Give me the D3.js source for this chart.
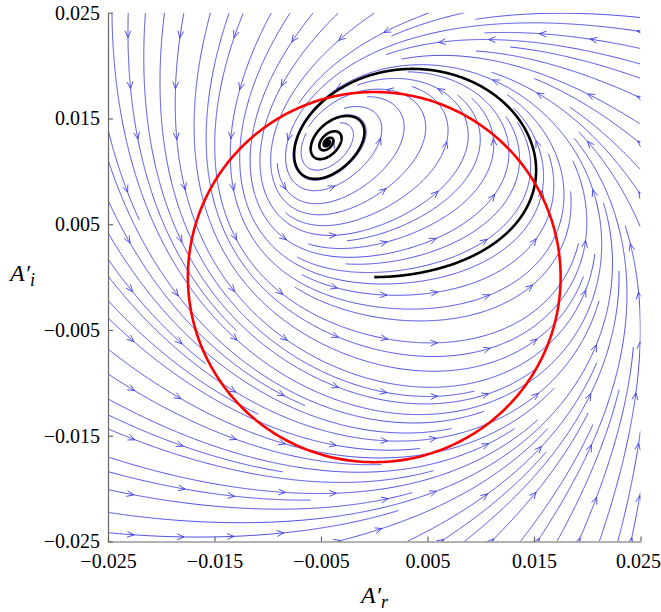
<!DOCTYPE html>
<html><head><meta charset="utf-8">
<script src="https://cdn.jsdelivr.net/npm/d3@7"></script>
<style>body{margin:0;background:#fff}svg{display:block}</style>
</head><body>
<svg id="chart" width="661" height="612"></svg>
<script>
// ---------------- data ----------------
const xDomain = [-0.025, 0.025];
const yDomain = [-0.025, 0.025];
const xTicks = [-0.025, -0.015, -0.005, 0.005, 0.015, 0.025];
const yTicks = [-0.025, -0.015, -0.005, 0.005, 0.015, 0.025];
// model of the vector field: dA/dt = (sigma + i*delta) A - (lr + i*li)|A|^2 A + f
const growthRate = [3.06e-4];          // sigma
const detuning = [2.36e-4];            // delta
const nonlinearCoef = [1.0, -0.7];     // lr, li
const forcing = [5.15e-6];             // f (real)
const circleCenter = [0, 0];
const circleRadius = [0.0175];
const trajectoryStart = [0, 0];
const xLabelMain = "A′", xLabelSub = "r";
const yLabelMain = "A′", yLabelSub = "i";

// ---------------- layout ----------------
const svg = d3.select("#chart");
const x = d3.scaleLinear().domain(xDomain).range([108, 640.5]);
const y = d3.scaleLinear().domain(yDomain).range([541.5, 12.7]);
const X0 = x.range()[0], X1 = x.range()[1], Y0 = y.range()[1], Y1 = y.range()[0];
const W = X1 - X0, H = Y1 - Y0;

function field(ax, ay) {
  const s = growthRate[0], d = detuning[0], lr = nonlinearCoef[0], li = nonlinearCoef[1];
  const r2 = ax * ax + ay * ay;
  return [s * ax - d * ay - r2 * (lr * ax - li * ay) + forcing[0],
          s * ay + d * ax - r2 * (lr * ay + li * ax)];
}
function dirPix(px, py) {
  const v = field(x.invert(px), y.invert(py));
  const vx = v[0] * (W / (xDomain[1] - xDomain[0]));
  const vy = -v[1] * (H / (yDomain[1] - yDomain[0]));
  const m = Math.hypot(vx, vy);
  if (m < 1e-12) return null;
  return [vx / m, vy / m];
}

// ---------------- evenly spaced streamlines ----------------
const dsep = 12, dtest = 0.55 * dsep, h = 1.0;
const gnx = Math.ceil(W / dsep) + 1, gny = Math.ceil(H / dsep) + 1;
const grid = Array.from({length: gnx * gny}, () => []);
function gcell(px, py) {
  return [Math.floor((px - X0) / dsep), Math.floor((py - Y0) / dsep)];
}
function addPt(px, py, id, idx) {
  const [i, j] = gcell(px, py);
  if (i < 0 || j < 0 || i >= gnx || j >= gny) return;
  grid[j * gnx + i].push([px, py, id, idx]);
}
function tooClose(px, py, d, id, idx) {
  const [i, j] = gcell(px, py);
  const selfGap = Math.ceil(Math.PI * d / h) + 4;
  for (let jj = j - 1; jj <= j + 1; jj++) for (let ii = i - 1; ii <= i + 1; ii++) {
    if (ii < 0 || jj < 0 || ii >= gnx || jj >= gny) continue;
    for (const q of grid[jj * gnx + ii]) {
      if (q[2] === id && Math.abs(q[3] - idx) < selfGap) continue;
      if ((q[0] - px) ** 2 + (q[1] - py) ** 2 < d * d) return true;
    }
  }
  return false;
}
function trace(sx, sy, sgn, id) {
  const pts = [];
  let px = sx, py = sy;
  for (let k = 1; k < 4000; k++) {
    const d1 = dirPix(px, py); if (!d1) break;
    const mx = px + sgn * d1[0] * h / 2, my = py + sgn * d1[1] * h / 2;
    const d2 = dirPix(mx, my); if (!d2) break;
    const qx = px + sgn * d2[0] * h, qy = py + sgn * d2[1] * h;
    if (qx < X0 || qx > X1 || qy < Y0 || qy > Y1) break;
    if (tooClose(qx, qy, dtest, id, sgn * k)) break;
    px = qx; py = qy;
    pts.push([px, py]);
    addPt(px, py, id, sgn * k);
  }
  return pts;
}
const scs = 8;
const snx = Math.floor(W / scs), sny = Math.floor(H / scs);
const seeds = [];
for (let j = 0; j < sny; j++) for (let i = 0; i < snx; i++) {
  const k = j * snx + i;
  seeds.push({sx: X0 + (i + 0.5) * scs, sy: Y0 + (j + 0.5) * scs, key: (k * 0.6180339887) % 1});
}
seeds.sort((a, b) => a.key - b.key);
const lines = [];
seeds.forEach((s, id) => {
  if (tooClose(s.sx, s.sy, dsep, -1, 0)) return;
  addPt(s.sx, s.sy, id, 0);
  const f = trace(s.sx, s.sy, 1, id);
  const b = trace(s.sx, s.sy, -1, id);
  const pts = b.reverse().concat([[s.sx, s.sy]], f);
  if (pts.length > 8) lines.push(pts);
});

// arrows: one per coarse cell, at the line vertex closest to the cell centre
const acs = W / 10.5;
const anx = Math.ceil(W / acs), any = Math.ceil(H / acs);
const best = new Array(anx * any).fill(null);
lines.forEach(pts => {
  for (let k = 3; k < pts.length - 3; k++) {
    const p = pts[k];
    const i = Math.floor((p[0] - X0) / acs), j = Math.floor((p[1] - Y0) / acs);
    if (i < 0 || j < 0 || i >= anx || j >= any) continue;
    const cx = X0 + (i + 0.5) * acs, cy = Y0 + (j + 0.5) * acs;
    const dd = Math.hypot(p[0] - cx, p[1] - cy);
    const c = j * anx + i;
    if (!best[c] || dd < best[c].dd) best[c] = {dd, p, q: pts[k - 3]};
  }
});
const arrows = best.filter(b => b && b.dd < acs * 0.4);

// ---------------- trajectory ----------------
function rk4(p, dt) {
  const k1 = field(p[0], p[1]);
  const k2 = field(p[0] + dt / 2 * k1[0], p[1] + dt / 2 * k1[1]);
  const k3 = field(p[0] + dt / 2 * k2[0], p[1] + dt / 2 * k2[1]);
  const k4 = field(p[0] + dt * k3[0], p[1] + dt * k3[1]);
  return [p[0] + dt / 6 * (k1[0] + 2 * k2[0] + 2 * k3[0] + k4[0]),
          p[1] + dt / 6 * (k1[1] + 2 * k2[1] + 2 * k3[1] + k4[1])];
}
const traj = [trajectoryStart.slice()];
let cur = trajectoryStart.slice();
for (let k = 0; k < 40000; k++) {
  cur = rk4(cur, 10);
  const l = traj[traj.length - 1];
  if (Math.hypot(x(cur[0]) - x(l[0]), y(cur[1]) - y(l[1])) > 0.4) traj.push(cur);
}

// ---------------- draw ----------------
svg.append("defs").append("clipPath").attr("id", "clip")
  .append("rect").attr("x", X0).attr("y", Y0).attr("width", W).attr("height", H);
const g = svg.append("g").attr("clip-path", "url(#clip)");
const lineGen = d3.line();
const blue = "#3030e0";
g.append("g").selectAll("path").data(lines).join("path")
  .attr("d", lineGen).attr("fill", "none").attr("stroke", blue).attr("stroke-width", 0.85);
g.append("g").selectAll("path").data(arrows).join("path")
  .attr("d", a => {
    let dx = a.p[0] - a.q[0], dy = a.p[1] - a.q[1];
    const m = Math.hypot(dx, dy); dx /= m; dy /= m;
    const L = 7.5, th = 0.4;
    const c = Math.cos(th), s = Math.sin(th);
    const r1 = [dx * c - dy * s, dx * s + dy * c], r2 = [dx * c + dy * s, -dx * s + dy * c];
    return `M${a.p[0] - L * r1[0]},${a.p[1] - L * r1[1]}L${a.p[0]},${a.p[1]}L${a.p[0] - L * r2[0]},${a.p[1] - L * r2[1]}`;
  })
  .attr("fill", "none").attr("stroke", blue).attr("stroke-width", 0.85);

const tline = d3.line().x(d => x(d[0])).y(d => y(d[1]));
svg.append("path").datum(traj).attr("d", tline).attr("fill", "none")
  .attr("stroke", "#000").attr("stroke-width", 2.6).attr("stroke-linejoin", "round");
const circ = d3.range(0, 361, 1).map(a => [circleCenter[0] + circleRadius[0] * Math.cos(a * Math.PI / 180),
                                          circleCenter[1] + circleRadius[0] * Math.sin(a * Math.PI / 180)]);
svg.append("path").datum(circ).attr("d", tline).attr("fill", "none")
  .attr("stroke", "#ff0000").attr("stroke-width", 2.6);

// axes
const fmt = d3.format(".3f");
const FONT = "Liberation Serif";
const ax = svg.append("g").attr("transform", `translate(0,${Y1})`)
  .call(d3.axisBottom(x).tickValues(xTicks).tickFormat(fmt).tickSizeInner(-5).tickSizeOuter(0).tickPadding(12));
const ay = svg.append("g").attr("transform", `translate(${X0},0)`)
  .call(d3.axisLeft(y).tickValues(yTicks).tickFormat(fmt).tickSizeInner(-5).tickSizeOuter(0).tickPadding(8));
[ax, ay].forEach(a => {
  a.attr("font-family", FONT).attr("font-size", 20);
  a.selectAll("path,line").attr("stroke", "#666").attr("stroke-width", 1.2);
  a.selectAll("text").attr("font-family", FONT).attr("font-size", 20).attr("fill", "#000");
});
// keep the last x tick label inside the window
ax.selectAll(".tick text").filter(d => d === xTicks[xTicks.length - 1])
  .attr("text-anchor", "end").attr("dx", 20);
const xl = svg.append("text").attr("font-family", FONT).attr("x", 361).attr("y", 603)
  .attr("font-style", "italic").attr("font-size", 24);
xl.append("tspan").text(xLabelMain);
xl.append("tspan").attr("dy", 5).attr("font-size", 18).text(xLabelSub);
const yl = svg.append("text").attr("font-family", FONT).attr("x", 10).attr("y", 281)
  .attr("font-style", "italic").attr("font-size", 24);
yl.append("tspan").text(yLabelMain);
yl.append("tspan").attr("dy", 5).attr("font-size", 18).text(yLabelSub);
</script>
</body></html>
